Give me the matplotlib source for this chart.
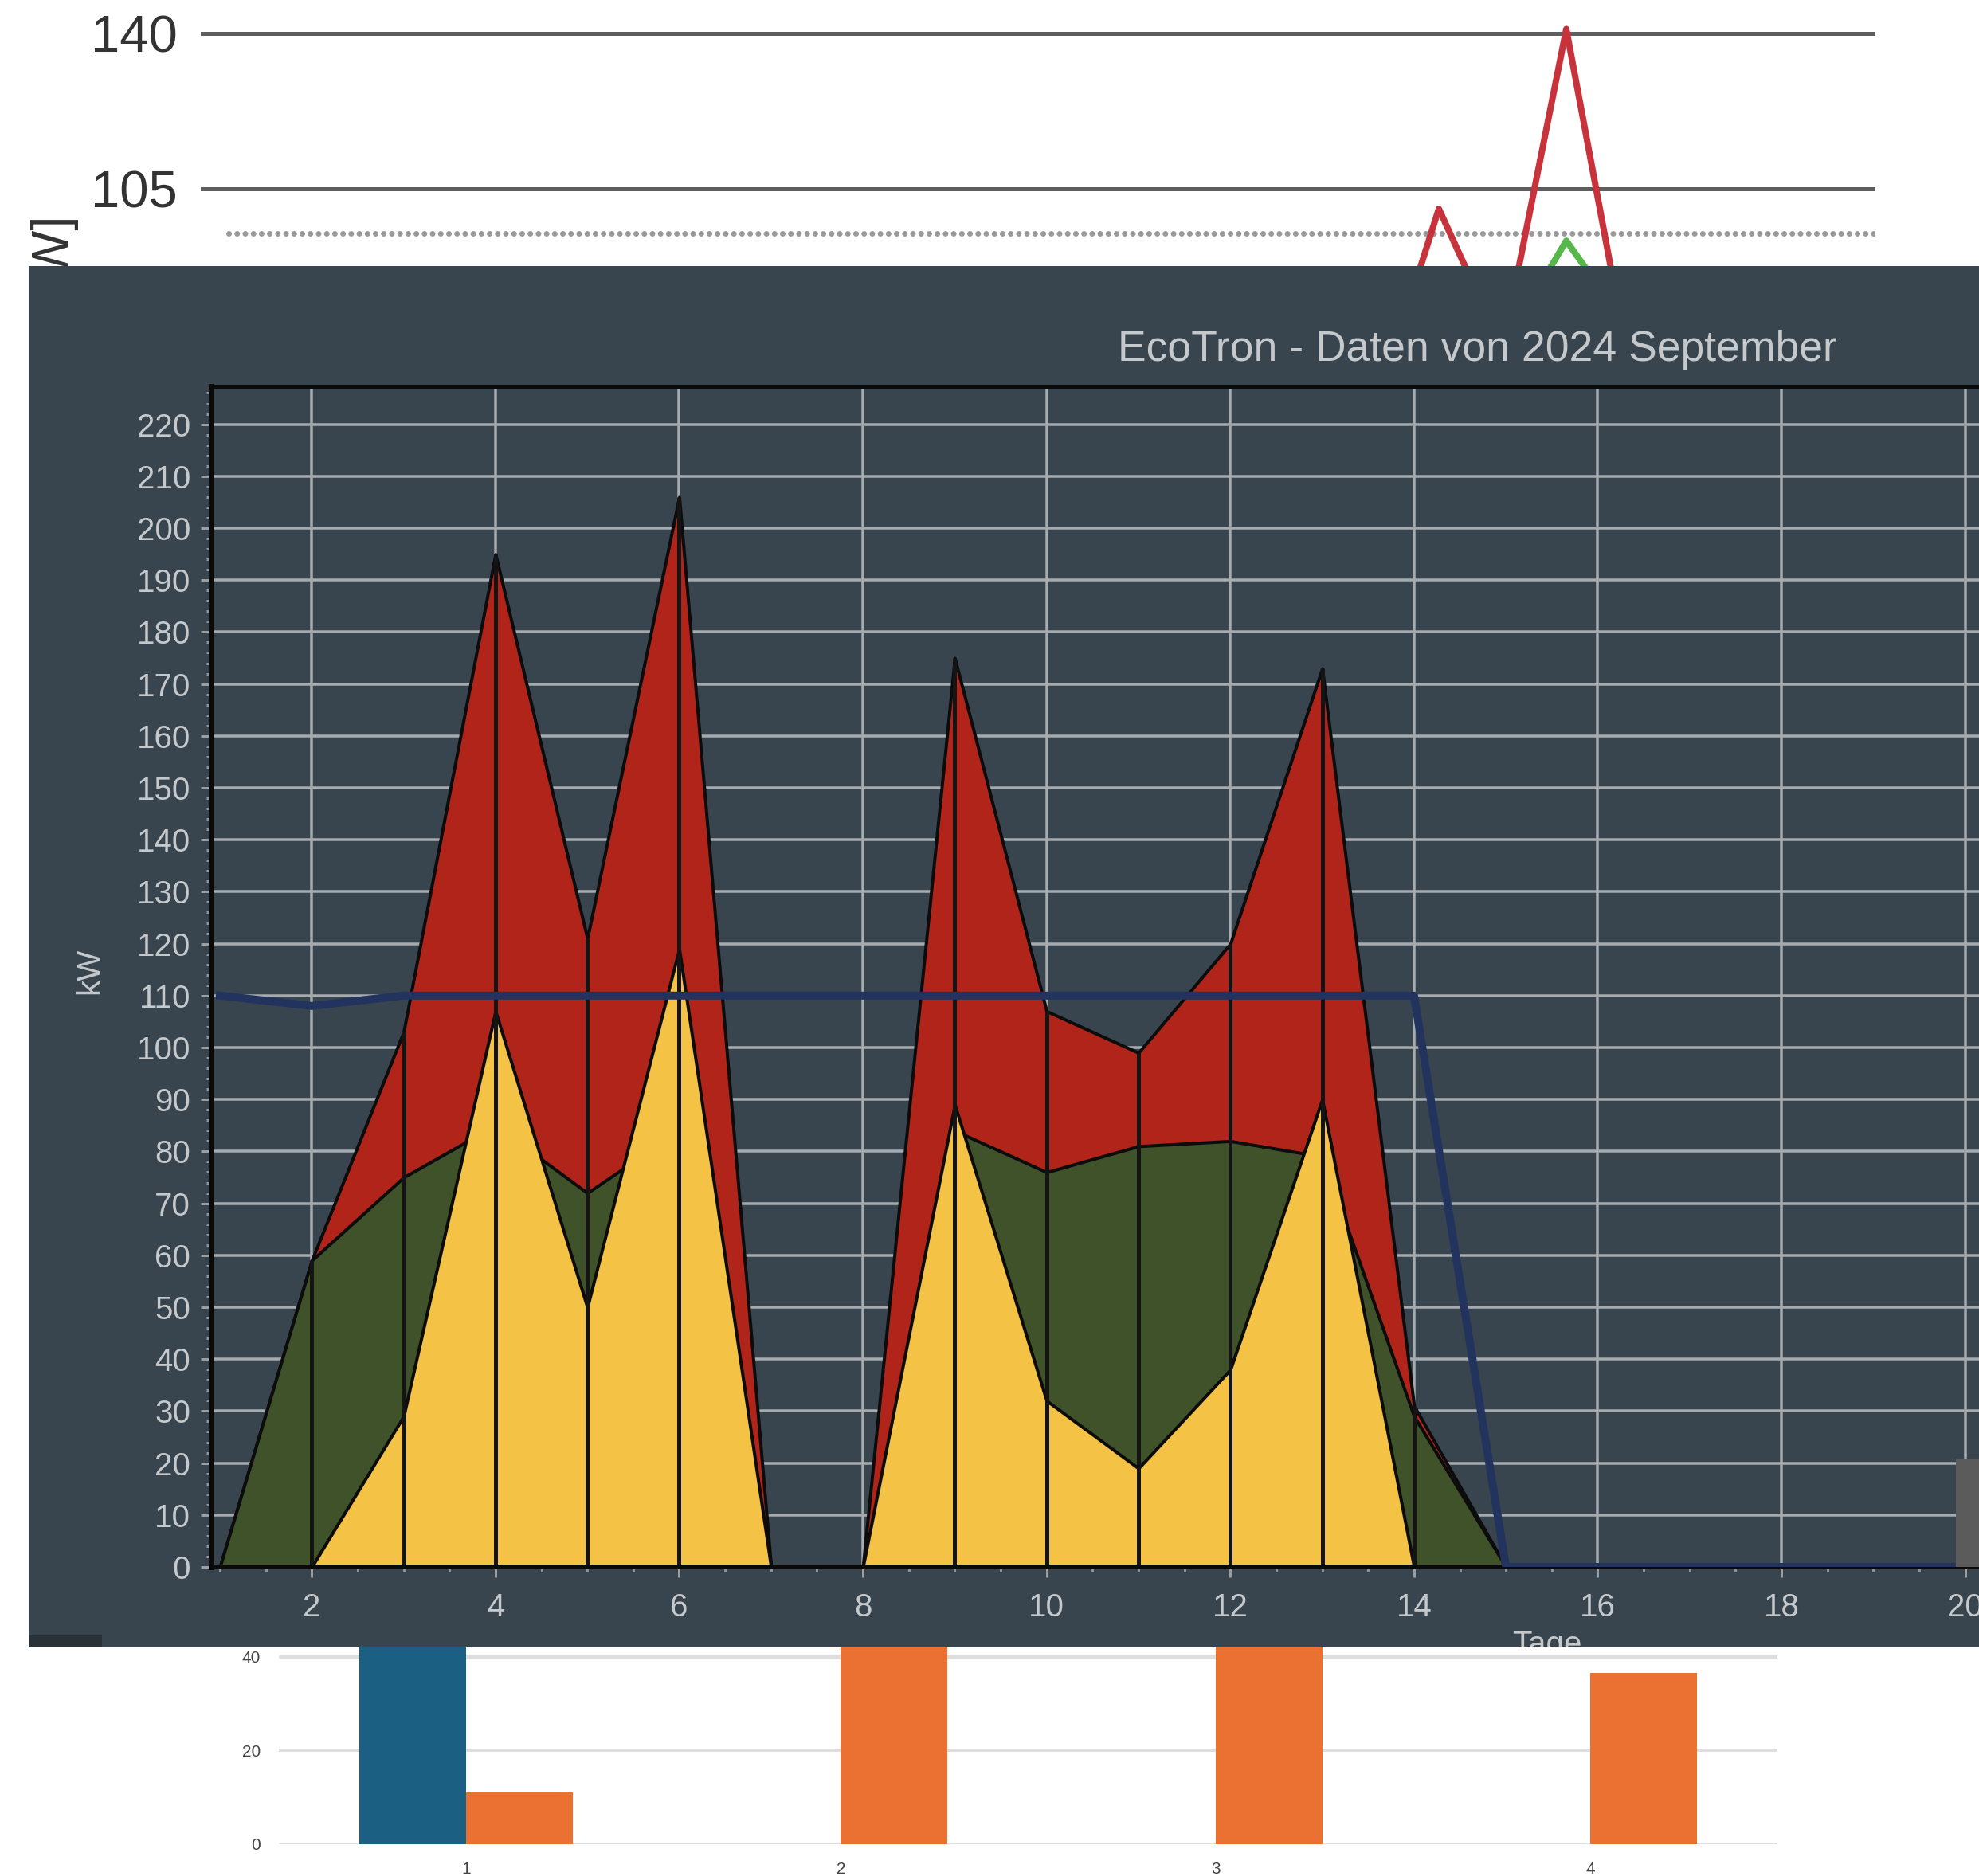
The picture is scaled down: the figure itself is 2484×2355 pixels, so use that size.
import numpy as np
import matplotlib
matplotlib.use("Agg")
import matplotlib.pyplot as plt
from matplotlib.patches import Rectangle
from matplotlib.ticker import MultipleLocator

plt.rcParams['font.family'] = ['Liberation Sans', 'DejaVu Sans']

# --- top (white) line chart, mostly hidden behind the dark panel ---
top_days = [21, 22, 23, 24, 25]
top_red = [55, 100.5, 69, 141, 64]
top_green_days = [23, 24, 25]
top_green = [69, 93.3, 73]
top_ticks = [105, 140]
top_limit = 95

# --- main dark chart: EcoTron daily values ---
days = np.arange(1, 21)
red = np.array([0, 59, 103, 195, 121, 206, 0, 0, 175, 107, 99, 120, 173, 31, 0, 0, 0, 0, 0, 0])
green = np.array([0, 59, 75, 85, 72, 84, 0, 0, 84, 76, 81, 82, 79, 29, 0, 0, 0, 0, 0, 0])
yellow = np.array([0, 0, 29, 107, 50, 119, 0, 0, 89, 32, 19, 38, 90, 0, 0, 0, 0, 0, 0, 0])
limit = np.array([110, 108, 110, 110, 110, 110, 110, 110, 110, 110, 110, 110, 110, 110,
                  0, 0, 0, 0, 0, 0])

# --- bottom bar chart, top part hidden behind the panel ---
bar_cats = ['1', '2', '3', '4']
bar_blue = [48, 0, 0, 0]
bar_orange = [11, 46, 45, 36.6]

W, H = 2484, 2355
fig = plt.figure(figsize=(W / 100, H / 100), dpi=100)
fig.patch.set_facecolor('white')


def px_axes(x0, y0, x1, y1, **kw):
    # axes placed by pixel box (top-left origin)
    return fig.add_axes([x0 / W, 1 - y1 / H, (x1 - x0) / W, (y1 - y0) / H], **kw)


def pt(px):
    return px * 0.72


narrow = ['Liberation Sans Narrow', 'Liberation Sans']

# top chart
ax_top = px_axes(252, 0, 2354, 400, zorder=1)
ax_top.set_xlim(2.575, 28.85)
ax_top.set_ylim(75.74, 147.54)
for v in top_ticks:
    ax_top.axhline(v, color='#5e5e5e', lw=pt(5), zorder=1)
ax_top.axhline(top_limit, xmin=0.0167, xmax=1.003, color='#9a9a9a', lw=pt(7),
               ls=(0, (0.01, 1.45)), dash_capstyle='round', zorder=1)
ax_top.plot(top_days, top_red, color='#c8323a', lw=pt(8), zorder=3)
ax_top.plot(top_green_days, top_green, color='#56b848', lw=pt(8), zorder=2)
ax_top.set_yticks(top_ticks)
ax_top.set_yticklabels([str(t) for t in top_ticks], family=narrow, fontsize=47, color='#333333')
ax_top.tick_params(axis='y', length=0, pad=pt(29))
ax_top.set_xticks([])
for s in ax_top.spines.values():
    s.set_visible(False)
ax_top.patch.set_alpha(0)
ax_top.text(64 / W, 1 - 265 / H, '[kW]', transform=fig.transFigure, rotation=90,
            ha='center', va='top', family=narrow, fontsize=47, color='#333333')

# bottom chart
ax_bot = px_axes(350, 1900, 2231, 2315, zorder=1)
xb = np.arange(1, len(bar_cats) + 1)
bw = 0.285
ax_bot.bar(xb - bw, bar_blue, bw, align='edge', color='#1b5f82', zorder=2)
ax_bot.bar(xb, bar_orange, bw, align='edge', color='#eb7133', zorder=2)
ax_bot.set_xlim(0.5, 4.5)
ax_bot.set_ylim(0, 70.6)
ax_bot.set_yticks([0, 20, 40, 60])
ax_bot.set_xticks(xb)
ax_bot.set_xticklabels(bar_cats)
ax_bot.grid(axis='y', color='#dedede', lw=pt(4), zorder=0)
ax_bot.set_axisbelow(True)
ax_bot.tick_params(length=0, labelsize=15, labelcolor='#444444')
ax_bot.tick_params(axis='y', pad=pt(23))
ax_bot.tick_params(axis='x', pad=pt(22))
for s in ax_bot.spines.values():
    s.set_visible(False)

# dark panel
panel = px_axes(36, 334, 2484, 2067, zorder=2)
panel.set_facecolor('#38454e')
panel.set_xticks([])
panel.set_yticks([])
for s in panel.spines.values():
    s.set_visible(False)
panel.text((2306 - 36) / 2448, 0.9313, 'EcoTron - Daten von 2024 September',
           transform=panel.transAxes, ha='right', va='baseline', fontsize=38.5, color='#c5c9cc')
panel.text(0.031, 0.4893, 'kW', transform=panel.transAxes, rotation=90,
           ha='center', va='center', fontsize=29, color='#c5c9cc')
panel.text((1942 - 36) / 2448, (2067 - 2046) / 1733, 'Tage', transform=panel.transAxes,
           ha='center', va='top', fontsize=29, color='#c5c9cc', clip_on=True)
panel.add_patch(Rectangle((0, 0), (128 - 36) / 2448, 14 / 1733, transform=panel.transAxes,
                          color='#2a3238', lw=0))

# main chart
ax = px_axes(265, 485, 2484, 1967, zorder=3)
ax.set_facecolor('none')
ax.set_xlim(0.905, 20.15)
ax.set_ylim(0, 227.3)

ax.fill_between(days, red, color='#b0241a', edgecolor='#0c0c0c', lw=pt(4), zorder=2)
ax.fill_between(days, green, color='#3f5229', edgecolor='#0c0c0c', lw=pt(4), zorder=2.1)
ax.fill_between(days, yellow, color='#f4c244', edgecolor='#0c0c0c', lw=pt(4), zorder=2.2)
mask = red > 0
ax.vlines(days[mask], 0, red[mask], colors='#141414', lw=pt(5), zorder=2.4)
ax.plot(days, limit, color='#22335e', lw=pt(10), zorder=4, solid_joinstyle='round')

ax.set_xticks(range(2, 21, 2))
ax.xaxis.set_minor_locator(MultipleLocator(0.5))
ax.set_yticks(range(0, 221, 10))
ax.yaxis.set_minor_locator(MultipleLocator(2))
ax.grid(True, which='major', color='#a6abaf', lw=pt(3.5))
ax.set_axisbelow(True)
ax.tick_params(which='major', length=pt(13), width=pt(3), color='#9aa0a4',
               labelsize=29, labelcolor='#c5c9cc')
ax.tick_params(which='minor', length=pt(6), width=pt(3), color='#8d9499')
ax.tick_params(axis='y', which='major', pad=pt(13))
ax.tick_params(axis='x', which='major', pad=pt(19))
ax.spines['left'].set_linewidth(pt(7))
ax.spines['bottom'].set_linewidth(pt(6))
ax.spines['top'].set_linewidth(pt(5))
for k in ('left', 'bottom', 'top'):
    ax.spines[k].set_color('#0a0a0a')
ax.spines['right'].set_visible(False)
ax.add_patch(Rectangle(((2455 - 265) / 2219, 0), 1 - (2455 - 265) / 2219, (1967 - 1831) / 1482,
                       transform=ax.transAxes, color='#5b5b5b', lw=0, zorder=5, clip_on=False))

fig.savefig('out.png', dpi=100)
